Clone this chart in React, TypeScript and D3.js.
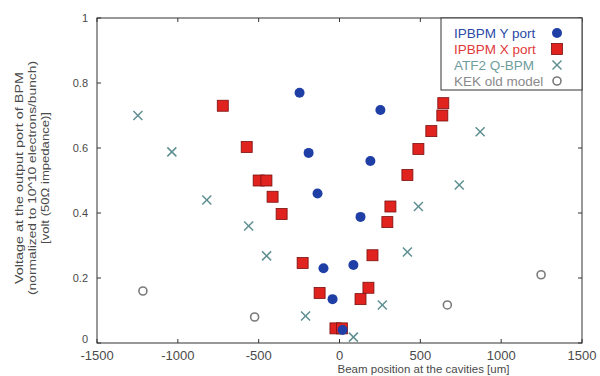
import React from 'react';
import * as d3 from 'd3';

// IPBPM Y port [position um, voltage]
const yPort: [number, number][] = [
  [-247, 0.77], [-191, 0.585], [-136, 0.46], [-99, 0.23], [-43, 0.135],
  [19, 0.04], [86, 0.24], [130, 0.388], [191, 0.56], [253, 0.717],
];

// IPBPM X port
const xPort: [number, number][] = [
  [-722, 0.73], [-574, 0.603], [-500, 0.5], [-452, 0.5], [-414, 0.45],
  [-358, 0.397], [-228, 0.246], [-123, 0.154], [-25, 0.045], [15, 0.045],
  [130, 0.135], [179, 0.17], [204, 0.27], [296, 0.372], [315, 0.42],
  [420, 0.517], [488, 0.597], [568, 0.652], [636, 0.70], [642, 0.738],
];

// ATF2 Q-BPM
const qbpm: [number, number][] = [
  [-1247, 0.70], [-1037, 0.588], [-821, 0.44], [-562, 0.36], [-451, 0.268],
  [-210, 0.083], [86, 0.018], [265, 0.117], [420, 0.28], [488, 0.42],
  [741, 0.486], [870, 0.65],
];

// KEK old model
const kekOld: [number, number][] = [
  [-1216, 0.16], [-525, 0.08], [667, 0.117], [1247, 0.21],
];

const xTicks = [-1500, -1000, -500, 0, 500, 1000, 1500];
const yTicks = [0, 0.2, 0.4, 0.6, 0.8, 1];

const legendItems = [
  { label: 'IPBPM Y port', color: '#1f3fa6', text: '#2b4aa6', kind: 'dot' },
  { label: 'IPBPM X port', color: '#e0231f', text: '#df3b3b', kind: 'square' },
  { label: 'ATF2 Q-BPM', color: '#5f8f90', text: '#6f9c9c', kind: 'cross' },
  { label: 'KEK old model', color: '#7a7a7a', text: '#8a8a8a', kind: 'ring' },
];

const yLabelLines = [
  'Voltage at the output port of BPM',
  '(normalized to 10^10 electrons/bunch)',
  '[volt (50Ω impedance)]',
];

const Marker = ({ kind, color, x, y }: { kind: string; color: string; x: number; y: number }) => {
  if (kind === 'dot') return <circle cx={x} cy={y} r={5} fill={color} />;
  if (kind === 'square') return <rect x={x - 5.5} y={y - 5.5} width={11} height={11} fill={color} stroke="#7a1010" strokeWidth={0.8} />;
  if (kind === 'cross') {
    const s = 4.5;
    return (
      <g stroke={color} strokeWidth={1.5}>
        <line x1={x - s} y1={y - s} x2={x + s} y2={y + s} />
        <line x1={x - s} y1={y + s} x2={x + s} y2={y - s} />
      </g>
    );
  }
  return <circle cx={x} cy={y} r={4} fill="none" stroke={color} strokeWidth={1.6} />;
};

export default function App() {
  const width = 600;
  const height = 376;
  const margin = { top: 18, right: 18, bottom: 33, left: 97 };
  const iw = width - margin.left - margin.right;
  const ih = height - margin.top - margin.bottom;

  const x = d3.scaleLinear().domain([-1500, 1500]).range([0, iw]);
  const y = d3.scaleLinear().domain([0, 1]).range([ih, 0]);

  const font = '"Liberation Sans", Arial, sans-serif';
  const textColor = '#4a4a4a';
  const axisColor = '#333';

  const series = [
    { data: qbpm, ...legendItems[2] },
    { data: kekOld, ...legendItems[3] },
    { data: xPort, ...legendItems[1] },
    { data: yPort, ...legendItems[0] },
  ];

  const legendW = 141;
  const legendH = 72;

  return (
    <div style={{ position: 'absolute', left: 0, top: 0 }}>
      <svg width={width} height={height} style={{ background: '#fff', display: 'block' }} fontFamily={font}>
        <g transform={`translate(${margin.left},${margin.top})`}>
          {series.map(s => (
            <g key={s.label}>
              {s.data.map((d, i) => (
                <Marker key={i} kind={s.kind} color={s.color} x={x(d[0])} y={y(d[1])} />
              ))}
            </g>
          ))}

          <rect x={0} y={0} width={iw} height={ih} fill="none" stroke={axisColor} strokeWidth={1} />

          {xTicks.map(t => (
            <g key={t} transform={`translate(${x(t)},0)`}>
              <line y1={ih} y2={ih - 4} stroke={axisColor} />
              <line y1={0} y2={4} stroke={axisColor} />
              <text y={ih + 17} textAnchor="middle" fontSize={13} fill={textColor}>{t}</text>
            </g>
          ))}
          {yTicks.map(t => (
            <g key={t} transform={`translate(0,${y(t)})`}>
              <line x1={0} x2={4} stroke={axisColor} />
              <line x1={iw} x2={iw - 4} stroke={axisColor} />
              <text x={-9} y={t === 0 ? 0 : 4} textAnchor="end" fontSize={11} fill={textColor}>{t}</text>
            </g>
          ))}

          <text x={x(0) - 2} y={ih + 30} textAnchor="start" fontSize={11.5} fill={textColor}>
            Beam position at the cavities [um]
          </text>

          <g transform={`translate(${-margin.left + 23},${178 - margin.top}) rotate(-90)`} fontSize={11} fill={textColor} textAnchor="middle">
            {yLabelLines.map((line, i) => (
              <text key={i} y={i * 13} textLength={[212, 234, 132][i]} lengthAdjust="spacingAndGlyphs">{line}</text>
            ))}
          </g>

          <g transform={`translate(${iw - legendW},0)`}>
            <rect x={0} y={0} width={legendW} height={legendH} fill="#fff" stroke={axisColor} strokeWidth={1} />
            {legendItems.map((it, i) => (
              <g key={it.label} transform={`translate(0,${15 + i * 16})`}>
                <text x={13} y={5} fontSize={13.5} fill={it.text}>{it.label}</text>
                <Marker kind={it.kind} color={it.color} x={116} y={0} />
              </g>
            ))}
          </g>
        </g>
      </svg>
    </div>
  );
}
